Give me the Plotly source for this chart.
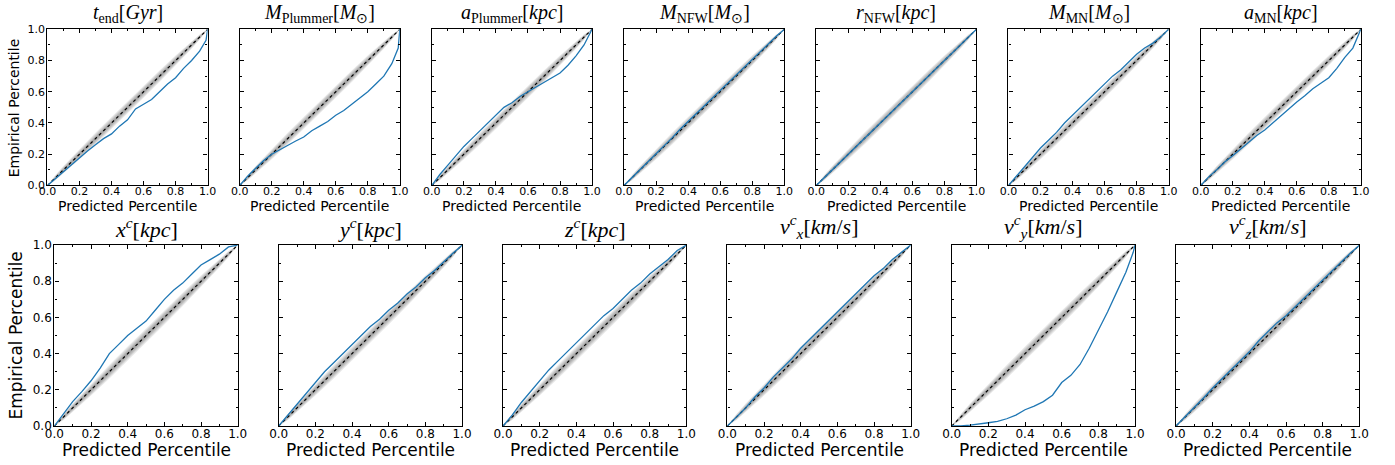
import plotly.graph_objects as go

W, H = 1395, 465

# ---------------- data ----------------
pred = [0, 0.05, 0.1, 0.15, 0.2, 0.25, 0.3, 0.35, 0.4, 0.45, 0.5,
        0.55, 0.6, 0.65, 0.7, 0.75, 0.8, 0.85, 0.9, 0.95, 0.99, 1.0]

t_end = [0, 0.045, 0.09, 0.135, 0.18, 0.22, 0.26, 0.30, 0.33, 0.38, 0.42,
         0.49, 0.52, 0.55, 0.60, 0.65, 0.69, 0.75, 0.80, 0.86, 0.93, 1.0]
M_plummer = [0, 0.06, 0.11, 0.16, 0.20, 0.23, 0.26, 0.285, 0.31, 0.35, 0.38,
             0.41, 0.45, 0.48, 0.52, 0.56, 0.60, 0.65, 0.70, 0.78, 0.88, 1.0]
a_plummer = [0, 0.07, 0.13, 0.19, 0.25, 0.30, 0.35, 0.40, 0.45, 0.50, 0.53,
             0.57, 0.60, 0.63, 0.66, 0.69, 0.72, 0.77, 0.83, 0.90, 0.98, 1.0]
M_nfw = [0, 0.05, 0.10, 0.15, 0.20, 0.255, 0.305, 0.36, 0.41, 0.46, 0.51,
         0.56, 0.61, 0.66, 0.71, 0.76, 0.81, 0.86, 0.91, 0.955, 0.99, 1.0]
r_nfw = [0, 0.05, 0.10, 0.15, 0.20, 0.25, 0.30, 0.35, 0.40, 0.45, 0.50,
         0.55, 0.60, 0.65, 0.70, 0.75, 0.80, 0.855, 0.905, 0.955, 0.99, 1.0]
M_mn = [0, 0.06, 0.12, 0.18, 0.24, 0.29, 0.34, 0.40, 0.45, 0.50, 0.55,
        0.60, 0.65, 0.70, 0.74, 0.79, 0.84, 0.88, 0.91, 0.95, 0.99, 1.0]
a_mn = [0, 0.055, 0.10, 0.15, 0.19, 0.235, 0.28, 0.32, 0.355, 0.40, 0.45,
        0.49, 0.535, 0.575, 0.62, 0.655, 0.69, 0.75, 0.82, 0.88, 0.97, 1.0]
x_c = [0, 0.07, 0.135, 0.19, 0.25, 0.32, 0.40, 0.45, 0.50, 0.54, 0.58,
       0.64, 0.70, 0.75, 0.79, 0.84, 0.89, 0.92, 0.95, 0.99, 1.0, 1.0]
y_c = [0, 0.06, 0.12, 0.18, 0.24, 0.30, 0.35, 0.40, 0.45, 0.50, 0.55,
       0.59, 0.64, 0.68, 0.73, 0.77, 0.82, 0.86, 0.91, 0.955, 0.99, 1.0]
z_c = [0, 0.06, 0.13, 0.19, 0.25, 0.31, 0.36, 0.41, 0.46, 0.51, 0.56,
       0.61, 0.65, 0.70, 0.75, 0.79, 0.84, 0.88, 0.92, 0.97, 0.995, 1.0]
vx_c = [0, 0.05, 0.10, 0.16, 0.21, 0.27, 0.32, 0.37, 0.43, 0.48, 0.53,
        0.58, 0.63, 0.68, 0.73, 0.78, 0.83, 0.87, 0.92, 0.96, 0.995, 1.0]
vy_c = [0, 0, 0.005, 0.01, 0.018, 0.025, 0.04, 0.06, 0.09, 0.11, 0.135,
        0.17, 0.24, 0.28, 0.34, 0.43, 0.53, 0.63, 0.74, 0.85, 0.96, 1.0]
vz_c = [0, 0.05, 0.10, 0.155, 0.21, 0.26, 0.31, 0.36, 0.41, 0.47, 0.52,
        0.57, 0.61, 0.66, 0.71, 0.76, 0.81, 0.855, 0.905, 0.955, 0.99, 1.0]

# reference band (uniform calibration) half-widths
band_x = [0, 0.05, 0.1, 0.2, 0.3, 0.4, 0.5, 0.6, 0.7, 0.8, 0.9, 0.95, 1.0]
band_hw = [0, 0.017, 0.024, 0.032, 0.037, 0.039, 0.04, 0.039, 0.037, 0.032, 0.024, 0.017, 0]

titles = [
    "<i>t</i><sub>end</sub>[<i>Gyr</i>]",
    "<i>M</i><sub>Plummer</sub>[<i>M</i><sub>⊙</sub>]",
    "<i>a</i><sub>Plummer</sub>[<i>kpc</i>]",
    "<i>M</i><sub>NFW</sub>[<i>M</i><sub>⊙</sub>]",
    "<i>r</i><sub>NFW</sub>[<i>kpc</i>]",
    "<i>M</i><sub>MN</sub>[<i>M</i><sub>⊙</sub>]",
    "<i>a</i><sub>MN</sub>[<i>kpc</i>]",
    "<i>x</i><sup><i>c</i></sup>[<i>kpc</i>]",
    "<i>y</i><sup><i>c</i></sup>[<i>kpc</i>]",
    "<i>z</i><sup><i>c</i></sup>[<i>kpc</i>]",
    "<i>v</i><sup><i>c</i></sup><sub><i>x</i></sub>[<i>km</i>/<i>s</i>]",
    "<i>v</i><sup><i>c</i></sup><sub><i>y</i></sub>[<i>km</i>/<i>s</i>]",
    "<i>v</i><sup><i>c</i></sup><sub><i>z</i></sub>[<i>km</i>/<i>s</i>]",
]
series = [t_end, M_plummer, a_plummer, M_nfw, r_nfw, M_mn, a_mn,
          x_c, y_c, z_c, vx_c, vy_c, vz_c]

tick_vals = [0, 0.2, 0.4, 0.6, 0.8, 1.0]
tick_text = ["0.0", "0.2", "0.4", "0.6", "0.8", "1.0"]

# ---------------- layout geometry (pixels) ----------------
panels = []
for i in range(7):
    x0 = 38 + 195 * i
    panels.append((x0, x0 + 162.5, 23, 184, "top"))
for i in range(6):
    x0 = 45 + 227.6 * i
    panels.append((x0, x0 + 186, 245.5, 432, "bot"))

fig = go.Figure()
annotations = []
layout_axes = {}

for k, (px0, px1, py0, py1, row) in enumerate(panels):
    n = k + 1
    xa = "x" if n == 1 else f"x{n}"
    ya = "y" if n == 1 else f"y{n}"
    # gradient band
    for frac in [1.0, 0.8, 0.62, 0.46, 0.3, 0.15]:
        yu = [bx + frac * h for bx, h in zip(band_x, band_hw)]
        yl = [bx - frac * h for bx, h in zip(band_x, band_hw)]
        fig.add_trace(go.Scatter(
            x=band_x + band_x[::-1], y=yu + yl[::-1],
            fill="toself", fillcolor="rgba(110,110,110,0.15)",
            line=dict(width=0), mode="lines", hoverinfo="skip",
            showlegend=False, xaxis=xa, yaxis=ya))
    fig.add_trace(go.Scatter(
        x=[0, 1], y=[0, 1], mode="lines",
        line=dict(color="black", width=1.2, dash="dot"),
        showlegend=False, xaxis=xa, yaxis=ya))
    fig.add_trace(go.Scatter(
        x=pred, y=series[k], mode="lines",
        line=dict(color="#1f77b4", width=1.3),
        showlegend=False, xaxis=xa, yaxis=ya))

    tf = 11 if row == "top" else 12
    first = (k == 0 or k == 7)
    common = dict(range=[0, 1], showgrid=False, zeroline=False,
                  showline=True, linecolor="black", linewidth=1.3, mirror="ticks",
                  ticks="inside", ticklen=4, tickwidth=1, tickcolor="black",
                  tickvals=tick_vals, ticktext=tick_text,
                  tickfont=dict(family="DejaVu Sans", size=tf, color="black"),
                  minor=dict(dtick=0.1, ticks="inside", ticklen=2, tickcolor="black", tickwidth=1),
                  fixedrange=True)
    layout_axes["xaxis" if n == 1 else f"xaxis{n}"] = dict(
        common, domain=[px0 / W, px1 / W], anchor=ya,
        ticklabelstandoff=-5 if row == "top" else -4)
    layout_axes["yaxis" if n == 1 else f"yaxis{n}"] = dict(
        common, domain=[1 - py1 / H, 1 - py0 / H], anchor=xa,
        showticklabels=first, ticklabelstandoff=-1)

    cx = (px0 + px1) / 2
    # title
    annotations.append(dict(
        text=titles[k], x=cx / W, y=1 - (py0 - 1) / H, xref="paper", yref="paper",
        xanchor="center", yanchor="bottom", showarrow=False,
        font=dict(family="Liberation Serif", size=20 if row == "top" else 22, color="black")))
    # x-axis label
    annotations.append(dict(
        text="Predicted Percentile", x=cx / W,
        y=1 - (py1 + (11 if row == "top" else 12)) / H, xref="paper", yref="paper",
        xanchor="center", yanchor="top", showarrow=False,
        font=dict(family="DejaVu Sans", size=14 if row == "top" else 17, color="black")))
    if first:
        annotations.append(dict(
            text="Empirical Percentile", x=(4 if row == "top" else 6) / W,
            y=1 - ((py0 + py1) / 2) / H, xref="paper", yref="paper",
            xanchor="center", yanchor="middle", textangle=-90, showarrow=False,
            font=dict(family="DejaVu Sans", size=14 if row == "top" else 17, color="black")))

fig.update_layout(
    width=W, height=H, margin=dict(l=0, r=0, t=0, b=0),
    paper_bgcolor="white", plot_bgcolor="white",
    annotations=annotations, **layout_axes)

fig.write_html("out.html", config={"displayModeBar": False})
